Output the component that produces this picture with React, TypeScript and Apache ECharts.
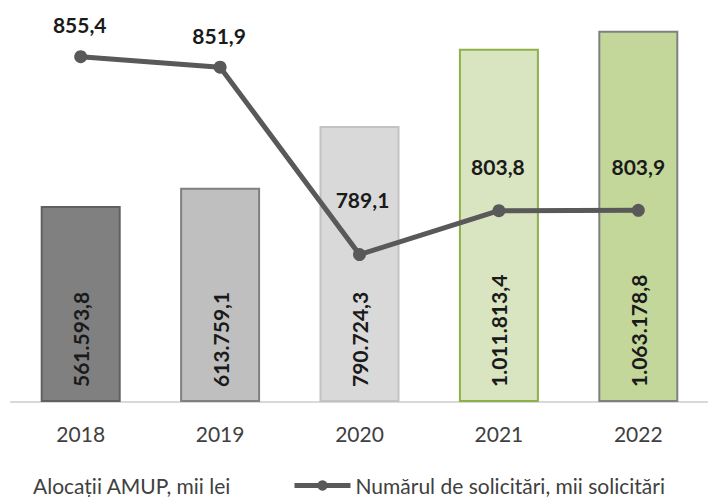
import React, { useEffect, useRef } from "react";
import * as echarts from "echarts";

const categories = ["2018", "2019", "2020", "2021", "2022"];
const allocations = [561593.8, 613759.1, 790724.3, 1011813.4, 1063178.8];
const requests = [855.4, 851.9, 789.1, 803.8, 803.9];
const barSeriesName = "Alocații AMUP, mii lei";
const lineSeriesName = "Numărul de solicitări, mii solicitări";

// styles (not data)
const barFills = ["#808080", "#bfbfbf", "#d9d9d9", "#d9e5c0", "#c4d79b"];
const barBorders = ["#606060", "#808080", "#c2c2c2", "#8db04a", "#808080"];
const lineLabelOffsets = [
  [-1, -32],
  [-1, -32],
  [3, -55],
  [-1, -44],
  [0, -44],
];

const FONT = "Lato";

function fmt(v: number): string {
  const s = v.toFixed(1);
  const [intPart, dec] = s.split(".");
  const withDots = intPart.replace(/\B(?=(\d{3})+(?!\d))/g, ".");
  return withDots + "," + dec;
}

export default function App() {
  const ref = useRef<HTMLDivElement>(null);
  useEffect(() => {
    if (!ref.current) return;
    const chart = echarts.init(ref.current, undefined, { renderer: "svg" });
    const legendText = { fontFamily: FONT, fontSize: 21, color: "#404040", lineHeight: 20 };
    chart.setOption({
      animation: false,
      backgroundColor: "#ffffff",
      textStyle: { fontFamily: FONT },
      grid: { left: 11, top: 18, width: 707.5, height: 384, containLabel: false },
      legend: [
        {
          data: [{ name: barSeriesName, itemStyle: { opacity: 0 } }],
          left: 28,
          top: 475,
          padding: 0,
          itemWidth: 0,
          itemHeight: 0,
          selectedMode: false,
          textStyle: legendText,
        },
        {
          data: [lineSeriesName],
          left: 292,
          top: 475,
          padding: 0,
          itemWidth: 56,
          itemHeight: 13,
          selectedMode: false,
          lineStyle: { width: 5, color: "#595959" },
          itemStyle: { color: "#595959" },
          textStyle: legendText,
        },
      ],
      xAxis: {
        type: "category",
        data: categories,
        boundaryGap: true,
        axisLine: { show: true, lineStyle: { color: "#d9d9d9", width: 2 } },
        axisTick: { show: false },
        axisLabel: { color: "#404040", fontSize: 21, fontFamily: FONT, margin: 21 },
        splitLine: { show: false },
      },
      yAxis: [
        { type: "value", min: 0, max: 1100000, show: false, splitLine: { show: false } },
        { type: "value", min: 739.68, max: 868.37, show: false, splitLine: { show: false } },
      ],
      series: [
        {
          name: barSeriesName,
          type: "bar",
          barWidth: 80,
          itemStyle: { color: "#d9d9d9" },
          data: allocations.map((v, i) => ({
            value: v,
            itemStyle: { color: barFills[i], borderColor: barBorders[i], borderWidth: 2 },
          })),
          label: {
            show: true,
            rotate: 90,
            position: "insideBottom",
            distance: 15,
            align: "left",
            verticalAlign: "middle",
            fontFamily: FONT,
            fontSize: 21,
            fontWeight: "bold",
            color: "#1a1a1a",
            formatter: (p: any) => fmt(p.value),
          },
          z: 1,
        },
        {
          name: lineSeriesName,
          type: "line",
          yAxisIndex: 1,
          symbol: "circle",
          symbolSize: 13,
          color: "#595959",
          lineStyle: { color: "#595959", width: 5 },
          itemStyle: { color: "#595959" },
          data: requests.map((v, i) => ({
            value: v,
            label: { offset: lineLabelOffsets[i] },
          })),
          label: {
            show: true,
            position: "inside",
            fontFamily: FONT,
            fontSize: 21,
            fontWeight: "bold",
            color: "#1a1a1a",
            formatter: (p: any) => fmt(p.value),
          },
          z: 3,
        },
      ],
    });
    return () => chart.dispose();
  }, []);
  return (
    <div
      ref={ref}
      style={{ position: "fixed", left: 0, top: 0, width: 708, height: 497 }}
    />
  );
}
